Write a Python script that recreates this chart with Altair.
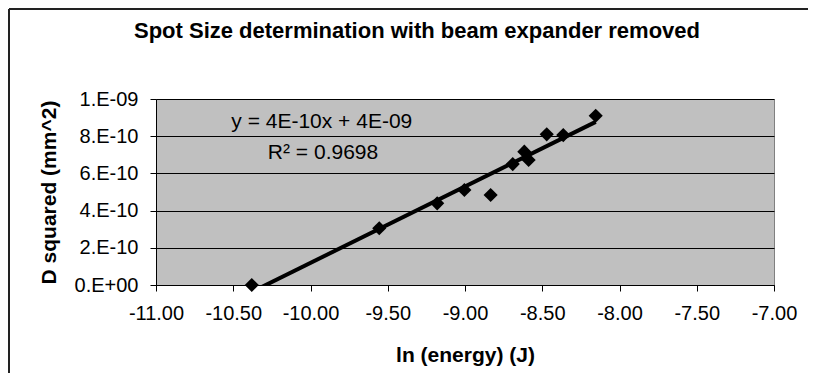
import json
import altair as alt
import pandas as pd

# ---- data ----
ln_energy = [-10.38, -9.555, -9.18, -9.004, -8.834, -8.691, -8.616, -8.588, -8.471, -8.364, -8.154]
d_squared = [0.0, 3.05e-10, 4.39e-10, 5.11e-10, 4.84e-10, 6.50e-10, 7.17e-10, 6.72e-10, 8.10e-10, 8.06e-10, 9.10e-10]

x_ticks = [-11.0, -10.5, -10.0, -9.5, -9.0, -8.5, -8.0, -7.5, -7.0]
x_tick_labels = ["-11.00", "-10.50", "-10.00", "-9.50", "-9.00", "-8.50", "-8.00", "-7.50", "-7.00"]
y_ticks = [0.0, 2e-10, 4e-10, 6e-10, 8e-10, 1e-9]
y_tick_labels = ["0.E+00", "2.E-10", "4.E-10", "6.E-10", "8.E-10", "1.E-09"]

eq_text = ["y = 4E-10x + 4E-09", "R\u00b2 = 0.9698"]
eq_x = [-9.927, -9.919]
eq_y = [8.78e-10, 7.10e-10]

title_text = ["Spot Size determination with beam expander removed"]

FONT = "Liberation Sans"

df = pd.DataFrame({"x": ln_energy, "y": d_squared})
eq_df = pd.DataFrame({"x": eq_x, "y": eq_y, "t": eq_text})
title_df = pd.DataFrame({"t": title_text})

x_scale = alt.Scale(domain=[-11, -7], nice=False, zero=False)
y_scale = alt.Scale(domain=[0, 1e-9], nice=False, zero=False)

x_axis = alt.Axis(
    values=x_ticks, tickCount=20,
    labelExpr=json.dumps(x_tick_labels) + "[round((datum.value + 11) * 2)]",
    grid=False, tickSize=6, labelPadding=12, labelFontSize=20,
    title="ln (energy) (J)", titleFontSize=21, titleFontWeight="bold",
    titleY=76, titleBaseline="alphabetic", labelFlush=False, labelOverlap=False,
)
y_axis = alt.Axis(
    values=y_ticks, tickCount=20,
    labelExpr=json.dumps(y_tick_labels) + "[round(datum.value * 5e9)]",
    grid=True, gridColor="#000000", gridWidth=1, tickSize=6, labelPadding=12,
    labelFontSize=20, labelBaseline="middle",
    title="D squared (mm^2)", titleFontSize=21, titleFontWeight="bold",
    titleX=-101, titleBaseline="alphabetic", labelFlush=False, labelOverlap=False,
)

points = alt.Chart(df).mark_point(
    shape="diamond", filled=True, size=200, color="#000000", opacity=1
).encode(
    x=alt.X("x:Q", scale=x_scale, axis=x_axis),
    y=alt.Y("y:Q", scale=y_scale, axis=y_axis),
)

trend = alt.Chart(df).transform_regression("x", "y").mark_line(
    color="#000000", strokeWidth=4, clip=True
).encode(x=alt.X("x:Q", scale=x_scale), y=alt.Y("y:Q", scale=y_scale))

eq = alt.Chart(eq_df).mark_text(
    font=FONT, fontSize=21, align="center", baseline="middle", color="#000000"
).encode(x=alt.X("x:Q", scale=x_scale), y=alt.Y("y:Q", scale=y_scale), text="t:N")

title = alt.Chart(title_df).mark_text(
    font=FONT, fontSize=22, fontWeight="bold", align="center",
    baseline="alphabetic", color="#000000"
).encode(x=alt.value(261), y=alt.value(-61), text="t:N")

frame_df = pd.DataFrame({"k": [0]})
top_line = alt.Chart(frame_df).mark_rule(color="#222222", strokeWidth=2).encode(
    x=alt.value(-147), x2=alt.value(652), y=alt.value(-90), y2=alt.value(-90)
)
left_line = alt.Chart(frame_df).mark_rule(color="#222222", strokeWidth=2).encode(
    x=alt.value(-147), x2=alt.value(-147), y=alt.value(-90), y2=alt.value(280)
)

chart = alt.layer(trend, points, eq, title, top_line, left_line).properties(
    width=618,
    height=186,
    padding={"left": 148, "top": 91, "right": 34, "bottom": 88},
    autosize=alt.AutoSizeParams(type="none"),
    background="#ffffff",
).configure_view(
    fill="#C0C0C0", stroke="#808080", strokeWidth=1
).configure_axis(
    labelFont=FONT, titleFont=FONT, labelColor="#000000", titleColor="#000000",
    domainColor="#000000", tickColor="#000000", domainWidth=1, tickWidth=1,
)

chart.save("out.html", embed_options={"renderer": "svg", "actions": False})
